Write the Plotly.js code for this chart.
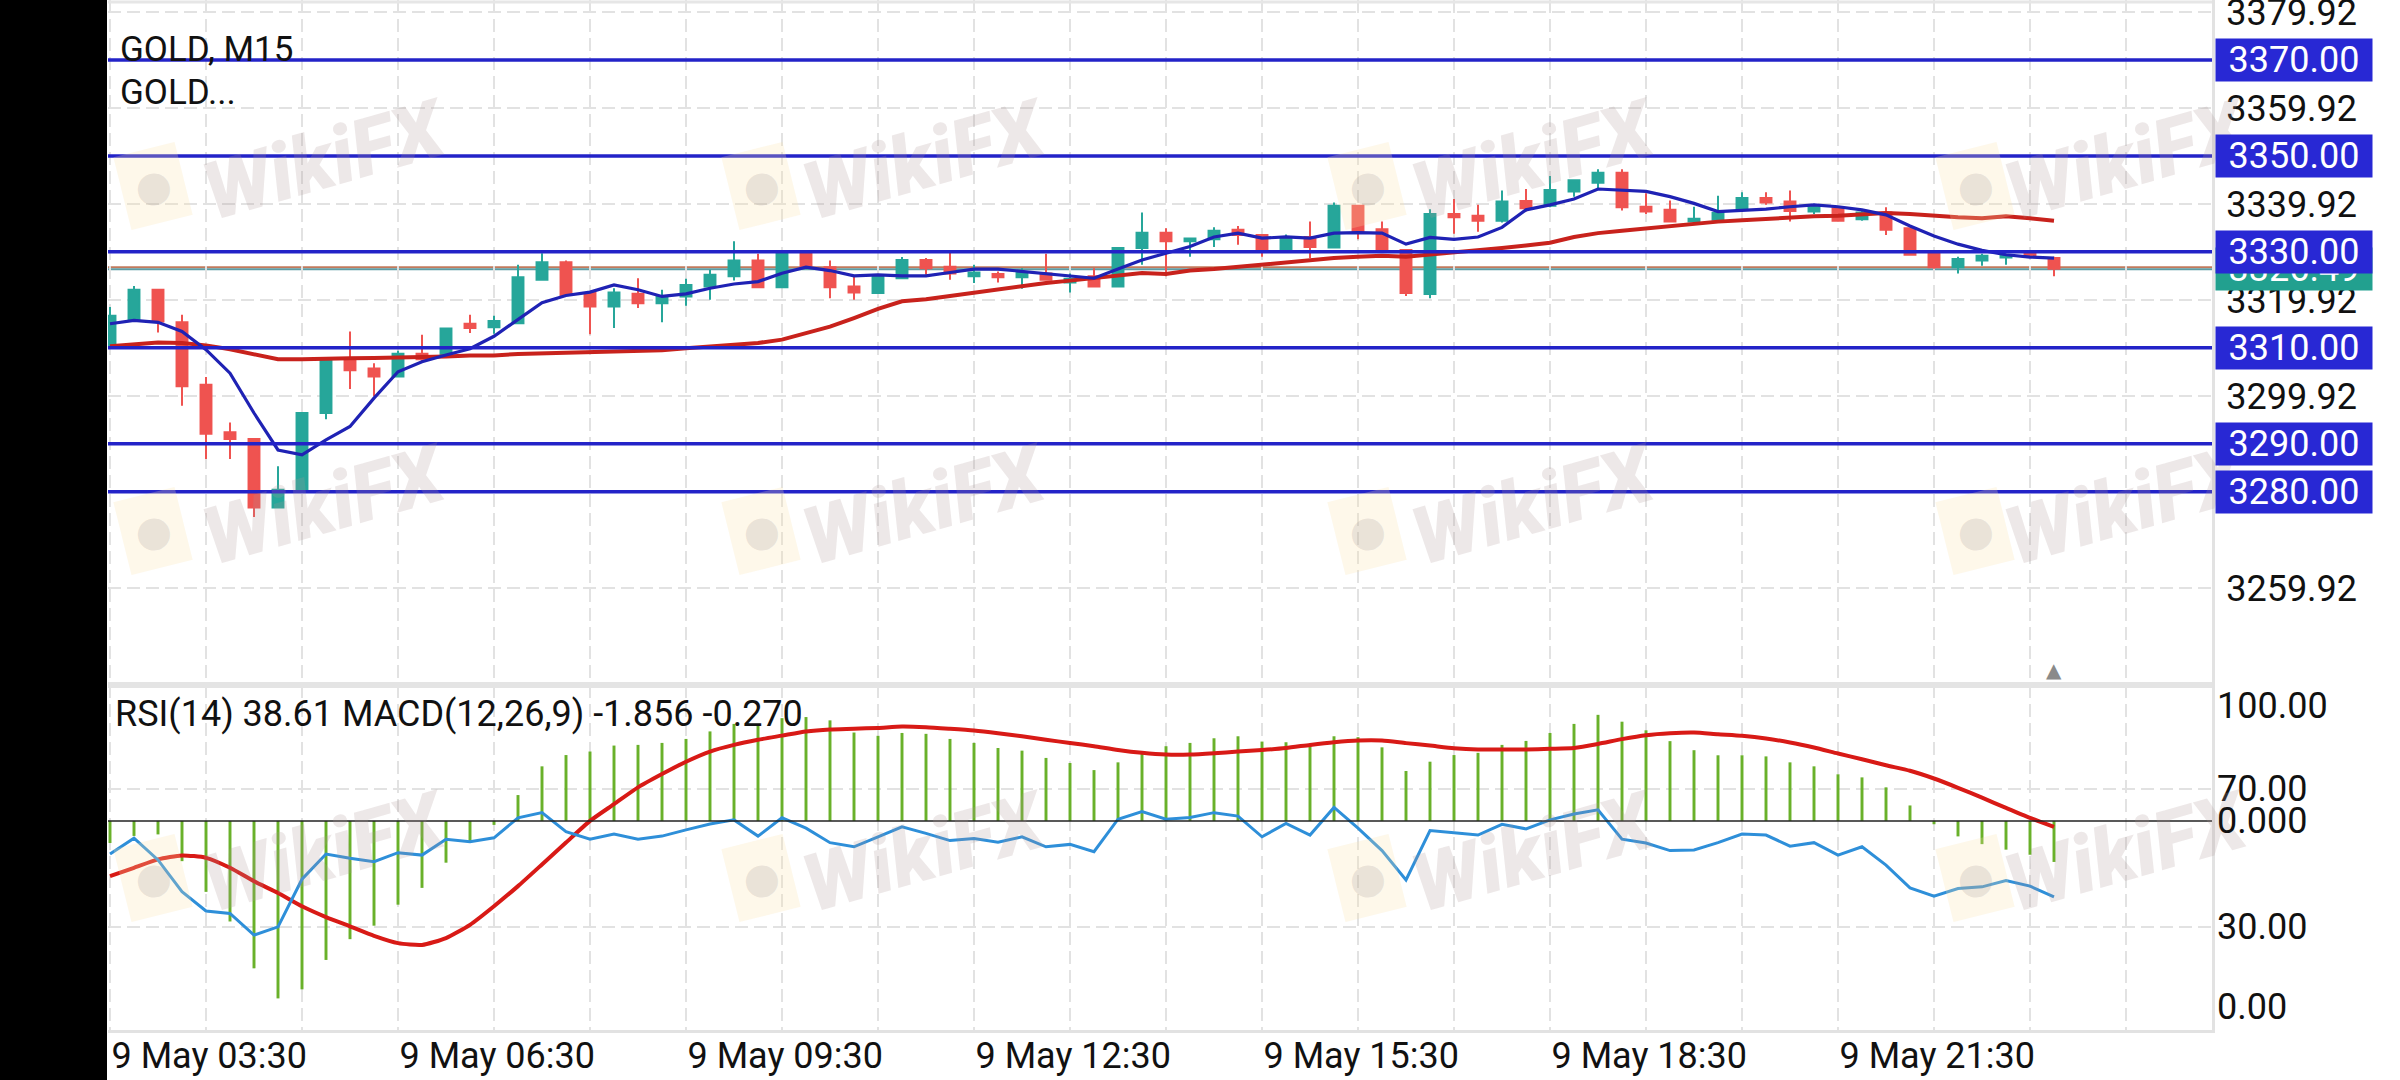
<!DOCTYPE html>
<html><head><meta charset="utf-8">
<script src="https://cdn.plot.ly/plotly-3.0.1.min.js"></script>
<style>
html,body{margin:0;padding:0;background:#fff;width:2400px;height:1080px;overflow:hidden}
#chart{position:absolute;left:0;top:0;width:2400px;height:1080px}
#band{position:absolute;left:0;top:0;width:107px;height:1080px;background:#000;z-index:10}
</style></head><body>
<div id="chart"></div><div id="band"></div>
<script>
// ---------- data ----------
const day = '2025-05-09';
const times = ['03:30','03:45','04:00','04:15','04:30','04:45','05:00','05:15','05:30','05:45',
'06:00','06:15','06:30','06:45','07:00','07:15','07:30','07:45','08:00','08:15',
'08:30','08:45','09:00','09:15','09:30','09:45','10:00','10:15','10:30','10:45',
'11:00','11:15','11:30','11:45','12:00','12:15','12:30','12:45','13:00','13:15',
'13:30','13:45','14:00','14:15','14:30','14:45','15:00','15:15','15:30','15:45',
'16:00','16:15','16:30','16:45','17:00','17:15','17:30','17:45','18:00','18:15',
'18:30','18:45','19:00','19:15','19:30','19:45','20:00','20:15','20:30','20:45',
'21:00','21:15','21:30','21:45','22:00','22:15','22:30','22:45','23:00','23:15',
'23:30','23:45'];
const openP = [3310.6,3316.0,3322.1,3315.3,3302.3,3292.4,3291.0,3276.7,3280.4,3296.4,
3307.8,3305.7,3304.0,3308.75,3308.5,3315.0,3314.3,3315.1,3324.2,3327.85,
3321.4,3318.6,3321.25,3319.3,3320.7,3322.8,3324.9,3328.2,3322.6,3330.1,
3326.8,3322.8,3321.4,3324.5,3328.3,3326.9,3324.9,3325.4,3324.7,3325.5,
3323.6,3324.9,3322.8,3330.8,3334.0,3332.2,3332.6,3334.6,3333.5,3330.4,
3333.1,3330.9,3339.6,3334.7,3330.4,3321.2,3337.9,3337.5,3336.5,3340.6,
3339.6,3342.6,3344.4,3346.5,3339.4,3338.75,3336.3,3336.7,3338.75,3341.2,
3340.5,3338.4,3339.1,3336.8,3338.2,3334.9,3329.7,3326.8,3328.2,3328.8,
3330.1,3328.7];
const highP = [3318.5,3322.9,3322.3,3316.9,3303.9,3294.4,3291.2,3285.3,3296.6,3308.0,
3313.4,3306.8,3309.4,3312.7,3314.2,3316.9,3316.7,3327.3,3329.7,3328.2,
3321.6,3322.4,3324.5,3322.1,3324.4,3326.25,3332.2,3329.6,3330.3,3330.4,
3328.2,3324.9,3325.2,3328.9,3328.7,3330.4,3327.3,3325.9,3326.6,3329.6,
3325.5,3326.6,3331.0,3338.2,3334.9,3333.0,3335.1,3335.4,3333.7,3333.6,
3336.3,3340.3,3339.8,3336.3,3330.6,3338.9,3341.0,3339.8,3342.8,3343.1,
3345.8,3345.1,3347.2,3347.2,3342.2,3340.7,3339.4,3341.7,3342.4,3342.4,
3342.8,3340.0,3339.4,3338.7,3339.3,3335.0,3329.9,3329.0,3329.6,3329.6,
3330.3,3329.0];
const lowP = [3309.8,3315.8,3313.2,3297.9,3286.8,3286.8,3274.7,3276.5,3280.2,3295.1,
3301.4,3299.9,3303.8,3307.1,3308.3,3313.1,3312.9,3314.9,3324.0,3320.8,
3312.8,3314.1,3318.3,3315.3,3318.75,3320.0,3324.0,3322.4,3322.4,3326.6,
3320.3,3320.0,3321.2,3324.3,3325.2,3324.2,3323.5,3323.6,3322.3,3324.0,
3321.5,3322.6,3322.6,3327.3,3324.9,3329.0,3331.0,3331.5,3329.0,3330.2,
3328.7,3330.7,3332.6,3329.9,3320.8,3320.3,3333.75,3334.2,3336.1,3338.4,
3339.3,3341.5,3343.3,3338.6,3337.9,3336.1,3336.1,3336.5,3338.4,3339.8,
3336.3,3337.9,3336.3,3336.5,3333.5,3329.2,3326.5,3325.5,3327.1,3327.3,
3328.8,3324.9];
const closeP = [3316.7,3322.1,3315.5,3302.0,3292.1,3291.0,3276.7,3280.4,3296.4,3307.8,
3305.3,3304.0,3308.75,3307.6,3314.0,3314.1,3315.6,3324.7,3327.85,3321.0,
3318.6,3321.5,3319.3,3320.7,3323.1,3325.2,3328.2,3322.6,3330.1,3326.8,
3322.6,3321.5,3325.0,3328.3,3326.6,3325.5,3325.7,3324.7,3325.7,3324.2,
3324.4,3322.8,3330.8,3334.0,3332.2,3332.8,3334.4,3333.5,3330.4,3332.8,
3331.0,3339.6,3334.2,3330.1,3321.4,3337.9,3337.2,3336.5,3340.5,3339.1,
3342.9,3344.9,3346.5,3339.3,3338.4,3336.3,3336.9,3338.1,3341.2,3340.3,
3338.5,3339.4,3336.5,3338.2,3334.6,3329.4,3326.8,3328.5,3329.2,3329.2,
3329.0,3326.49];
const maFast = [3315.0,3315.7,3315.3,3313.4,3309.6,3304.7,3296.4,3288.7,3287.7,3290.8,
3293.6,3299.5,3305.0,3307.1,3308.5,3309.8,3312.4,3315.8,3319.4,3320.9,
3321.6,3323.1,3322.1,3320.7,3321.25,3322.4,3323.3,3323.8,3325.55,3326.8,
3326.1,3325.0,3325.2,3325.0,3325.0,3325.7,3326.4,3326.4,3325.9,3325.4,
3325.0,3324.5,3326.4,3328.3,3329.7,3331.1,3333.1,3333.9,3332.85,3333.1,
3332.85,3333.9,3334.0,3333.9,3331.6,3333.0,3332.6,3333.1,3335.1,3338.75,
3339.8,3341.0,3343.1,3342.9,3342.6,3341.5,3340.1,3338.4,3338.6,3338.9,
3339.4,3339.8,3339.4,3338.75,3337.7,3335.4,3333.3,3331.6,3330.3,3329.4,
3328.9,3328.7];
const maSlow = [3310.3,3310.8,3311.1,3311.0,3310.5,3309.7,3308.75,3307.6,3307.6,3307.8,
3307.8,3307.85,3307.9,3308.1,3308.2,3308.4,3308.4,3308.7,3308.8,3308.9,
3309.1,3309.2,3309.3,3309.5,3309.9,3310.3,3310.6,3311.0,3311.7,3313.1,
3314.4,3316.2,3318.1,3319.7,3320.1,3320.8,3321.5,3322.1,3322.8,3323.5,
3324.0,3324.5,3325.2,3325.6,3325.4,3326.1,3326.4,3326.9,3327.4,3327.8,
3328.2,3328.7,3329.0,3329.2,3329.0,3329.4,3329.9,3330.3,3330.8,3331.3,
3331.9,3333.1,3333.9,3334.4,3334.9,3335.4,3335.8,3336.3,3336.6,3336.9,
3337.0,3337.4,3337.5,3337.7,3338.1,3337.9,3337.5,3337.2,3337.0,3337.4,
3337.0,3336.5];
const rsi = [51.0,55.6,49.3,40.1,34.5,33.8,27.5,29.9,43.7,51.0,
49.8,48.8,51.4,50.7,55.3,54.6,55.7,61.5,63.0,57.5,
55.3,56.8,55.3,56.2,58.0,59.7,60.9,56.2,61.5,58.5,
54.3,53.1,56.0,58.9,57.0,54.9,55.5,54.4,56.0,53.1,
53.8,51.7,61.1,63.3,61.1,61.6,63.0,62.0,56.0,59.9,
56.5,64.5,58.5,52.0,43.5,57.8,57.2,56.5,59.6,58.3,
60.9,62.6,63.8,55.3,54.2,52.0,52.2,54.3,56.8,56.5,
53.3,54.3,50.7,53.1,47.8,41.2,38.8,41.0,41.5,43.3,
41.7,38.61];
const macdMain = [-1.0,-0.68,-0.61,-1.82,-3.21,-4.55,-6.67,-8.03,-7.62,-6.29,
-5.35,-4.74,-3.79,-3.03,-1.89,-0.98,-0.18,1.17,2.47,2.98,
3.14,3.41,3.44,3.53,3.71,4.05,4.39,4.32,4.65,4.70,
4.55,4.00,3.85,3.98,3.94,3.71,3.53,3.30,3.18,2.85,
2.62,2.30,2.65,3.15,3.38,3.53,3.74,3.83,3.59,3.56,
3.41,3.83,3.79,3.33,2.26,2.68,2.98,3.08,3.44,3.62,
3.98,4.39,4.80,4.49,4.10,3.61,3.20,2.97,2.97,2.92,
2.65,2.47,2.11,1.97,1.52,0.70,-0.15,-0.70,-1.05,-1.30,
-1.53,-1.856];
const macdSignal = [-2.50,-2.12,-1.74,-1.56,-1.67,-2.12,-2.73,-3.26,-3.86,-4.35,
-4.77,-5.20,-5.53,-5.61,-5.30,-4.70,-3.86,-2.95,-1.97,-0.98,
0.0,0.76,1.52,2.12,2.68,3.14,3.44,3.67,3.86,4.05,
4.14,4.17,4.21,4.27,4.24,4.17,4.09,3.97,3.83,3.67,
3.53,3.38,3.21,3.08,3.00,3.00,3.06,3.14,3.21,3.30,
3.44,3.56,3.64,3.64,3.52,3.41,3.29,3.23,3.23,3.23,
3.26,3.30,3.48,3.70,3.88,3.97,4.00,3.92,3.85,3.73,
3.55,3.32,3.05,2.79,2.52,2.27,1.92,1.50,1.05,0.59,
0.14,-0.27];
const levels = [3370, 3350, 3330, 3310, 3290, 3280];
const levelLabels = ['3370.00','3350.00','3330.00','3310.00','3290.00','3280.00'];
const priceTicks = [3259.92, 3279.92, 3299.92, 3319.92, 3339.92, 3359.92, 3379.92];
const priceTickText = ['3259.92','3279.92','3299.92','3319.92','3339.92','3359.92','3379.92'];
const currentPrice = 3326.49;
const currentPriceText = '3326.49';
const rsiTicks = [30, 70];
const rsiTickText = ['30.00', '70.00'];
const titleText1 = 'GOLD, M15';
const titleText2 = 'GOLD...';
const indText = 'RSI(14) 38.61 MACD(12,26,9) -1.856 -0.270';

// ---------- layout helpers ----------
const W = 2400, H = 1080, ML = 108, MR = 188, MT = 0, MB = 50;
const PW = W - ML - MR, PH = H - MT - MB;
const px = x => (x - ML) / PW;
const py = y => (PH + MT - y) / PH;
const x = times.map(t => day + ' ' + t);
const FONT = 'Roboto, "Open Sans", sans-serif';
const GRID = '#e2e2e2';
const DASH = '13px,6px';
const split = py(685);

const traces = [
  {type:'candlestick', x:x, open:openP, high:highP, low:lowP, close:closeP,
   xaxis:'x', yaxis:'y', whiskerwidth:0, hoverinfo:'skip',
   increasing:{line:{color:'#26a69a', width:2}, fillcolor:'#26a69a'},
   decreasing:{line:{color:'#ef5350', width:2}, fillcolor:'#ef5350'}},
  {type:'scatter', mode:'lines', x:x, y:maSlow, xaxis:'x', yaxis:'y',
   line:{color:'#c8221c', width:4}, hoverinfo:'skip'},
  {type:'scatter', mode:'lines', x:x, y:maFast, xaxis:'x', yaxis:'y',
   line:{color:'#1f22b4', width:3.2}, hoverinfo:'skip'},
  {type:'bar', x:x, y:macdMain, xaxis:'x2', yaxis:'y2',
   marker:{color:'#69b12a', line:{width:0}}, width:110000, hoverinfo:'skip'},
  {type:'scatter', mode:'lines', x:x, y:macdSignal, xaxis:'x2', yaxis:'y2',
   line:{color:'#d81a16', width:4, shape:'spline', smoothing:0.6}, hoverinfo:'skip'},
  {type:'scatter', mode:'lines', x:x, y:rsi, xaxis:'x2', yaxis:'y3',
   line:{color:'#2e8fd9', width:3}, hoverinfo:'skip'}
];

const shapes = [];
levels.forEach(v => shapes.push({type:'line', xref:'paper', x0:0, x1:1, yref:'y', y0:v, y1:v,
  line:{color:'#2323c8', width:3.5}, layer:'above'}));
shapes.push({type:'line', xref:'paper', x0:0, x1:1, yref:'y', y0:currentPrice+0.3, y1:currentPrice+0.3,
  line:{color:'#c27a5c', width:2}, layer:'below'});
shapes.push({type:'line', xref:'paper', x0:0, x1:1, yref:'y', y0:currentPrice-0.1, y1:currentPrice-0.1,
  line:{color:'#5e9ca4', width:2}, layer:'below'});
shapes.push({type:'line', xref:'paper', x0:0, x1:1, yref:'y2', y0:0, y1:0,
  line:{color:'#222', width:1.5}, layer:'above'});
shapes.push({type:'rect', xref:'paper', x0:0, x1:1, yref:'paper', y0:py(688), y1:py(682),
  fillcolor:'#e4e4e4', line:{width:0}, layer:'above'});
shapes.push({type:'line', xref:'paper', x0:0, x1:1, yref:'paper', y0:py(2), y1:py(2),
  line:{color:'#e6e6e6', width:3}, layer:'above'});

const annotations = [];
// watermarks (drawn first, sit under the price tags)
const wmTextX = [326, 926, 1535, 2128], wmLogoX = [153, 761, 1367, 1975];
const wmRowsY = [160, 505, 852];
wmRowsY.forEach(ry => {
  wmLogoX.forEach(lx => annotations.push({xref:'paper', x:px(lx), xanchor:'center', yref:'paper', y:py(ry+26),
    yanchor:'middle', text:'●', showarrow:false, textangle:-14, bgcolor:'rgba(252,228,170,0.25)', width:60, height:72,
    font:{family:'DejaVu Sans', size:42, color:'rgba(150,140,140,0.2)'}}));
  wmTextX.forEach(tx => annotations.push({xref:'paper', x:px(tx), xanchor:'center', yref:'paper', y:py(ry),
    yanchor:'middle', text:'WikiFX', showarrow:false, textangle:-16,
    font:{family:'Roboto', size:80, weight:900, style:'italic', color:'rgba(175,150,150,0.22)'}}));
});
// current price tag (partly covered by the 3330 tag)
annotations.push({xref:'paper', x:1, xanchor:'left', xshift:3, yref:'y', y:currentPrice, yanchor:'middle',
  text:currentPriceText, showarrow:false, bgcolor:'#22a08f', width:152, height:38, borderpad:2,
  font:{family:FONT, size:36, color:'#ffffff'}});
levels.forEach((v,i) => annotations.push({xref:'paper', x:1, xanchor:'left', xshift:3, yref:'y', y:v, yanchor:'middle',
  text:levelLabels[i], showarrow:false, bgcolor:'#2828d4', width:152, height:38, borderpad:2,
  font:{family:FONT, size:36, color:'#ffffff'}}));
annotations.push({xref:'paper', x:px(118), xanchor:'left', yref:'paper', y:py(50), yanchor:'middle',
  text:titleText1, showarrow:false, font:{family:FONT, size:35, color:'#111'}});
annotations.push({xref:'paper', x:px(118), xanchor:'left', yref:'paper', y:py(92), yanchor:'middle',
  text:titleText2, showarrow:false, font:{family:FONT, size:35, color:'#111'}});
annotations.push({xref:'paper', x:px(113), xanchor:'left', yref:'paper', y:py(714), yanchor:'middle',
  text:indText, showarrow:false, font:{family:FONT, size:36, color:'#111'}});
annotations.push({xref:'paper', x:1, xanchor:'left', xshift:3, yref:'paper', y:py(706), yanchor:'middle',
  text:'100.00', showarrow:false, font:{family:FONT, size:36, color:'#111'}});
annotations.push({xref:'paper', x:1, xanchor:'left', xshift:3, yref:'paper', y:py(1007), yanchor:'middle',
  text:'0.00', showarrow:false, font:{family:FONT, size:36, color:'#111'}});
annotations.push({xref:'paper', x:1, xanchor:'left', xshift:3, yref:'y2', y:0, yanchor:'middle',
  text:'0.000', showarrow:false, font:{family:FONT, size:36, color:'#111'}});
annotations.push({xref:'x', x:x[x.length-1], xanchor:'center', yref:'paper', y:py(684), yanchor:'bottom',
  text:'▲', showarrow:false, font:{family:'DejaVu Sans', size:20, color:'#8a8a8a'}});

const xRange = ['2025-05-09 03:28:45', '2025-05-10 01:23:45'];
const xCommon = {type:'date', range:xRange, showgrid:true, gridcolor:GRID, gridwidth:2, griddash:DASH,
  dtick:10800000, tick0:'2025-05-09 03:30', zeroline:false,
  minor:{dtick:3600000, tick0:'2025-05-09 03:30', showgrid:true, gridcolor:GRID, gridwidth:2, griddash:DASH},
  rangeslider:{visible:false}, fixedrange:true};

const layout = {
  width:W, height:H, margin:{l:ML, r:MR, t:MT, b:MB},
  paper_bgcolor:'#ffffff', plot_bgcolor:'#ffffff', showlegend:false,
  font:{family:FONT, size:36, color:'#111'},
  boxgap:0.35,
  xaxis: Object.assign({}, xCommon, {anchor:'y', showticklabels:false}),
  xaxis2: Object.assign({}, xCommon, {anchor:'y2', matches:'x', showticklabels:true,
    tickformat:'%-d %b %H:%M', ticklabelposition:'outside right', ticks:'',
    ticklabeloverflow:'hide past domain', ticklabelstandoff:-8,
    tickfont:{family:FONT, size:36, color:'#111'},
    showline:true, linecolor:'#e2e2e2', linewidth:3}),
  yaxis: {domain:[split, 1], anchor:'x', side:'right', range:[3239.7, 3382.5],
    tickvals:priceTicks, ticktext:priceTickText, ticks:'', ticklabelstandoff:4,
    ticklabeloverflow:'allow', showgrid:true, gridcolor:GRID, gridwidth:2, griddash:DASH,
    zeroline:false, showline:true, linecolor:'#e2e2e2', linewidth:3,
    tickfont:{family:FONT, size:36, color:'#111'}, fixedrange:true},
  yaxis2: {domain:[0, split], anchor:'x2', side:'right', range:[-9.46, 6.15],
    showticklabels:false, ticks:'', showgrid:false, zeroline:false,
    showline:true, linecolor:'#e2e2e2', linewidth:3, fixedrange:true},
  yaxis3: {overlaying:'y2', anchor:'x2', side:'right', range:[0, 100],
    tickvals:rsiTicks, ticktext:rsiTickText, ticks:'', ticklabelstandoff:4,
    showgrid:true, gridcolor:GRID, gridwidth:2, griddash:DASH, zeroline:false,
    tickfont:{family:FONT, size:36, color:'#111'}, fixedrange:true},
  shapes:shapes, annotations:annotations
};

Plotly.newPlot('chart', traces, layout, {staticPlot:true, displayModeBar:false});
</script>
</body></html>
